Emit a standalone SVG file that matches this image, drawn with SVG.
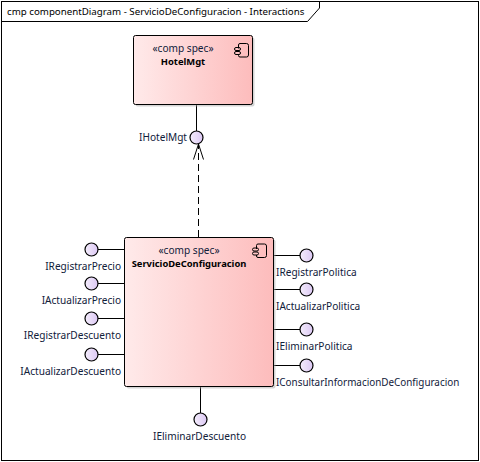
<svg xmlns="http://www.w3.org/2000/svg" width="480" height="462" viewBox="0 0 480 462">
<style>
text{font-family:"Noto Sans","Open Sans","Liberation Sans",sans-serif;font-size:10.1px;fill:#10203a}
.b{font-weight:700;font-size:9.4px;fill:#000}
.e{text-anchor:end}
.m{text-anchor:middle}
.node{fill:url(#g);stroke:#000;stroke-width:1}
.shadow{fill:#aaa;opacity:.5}
.c{fill:url(#p);stroke:#000;stroke-width:1.2}
.l{stroke:#000;stroke-width:1;fill:none}
.i{fill:none;stroke:#000;stroke-width:1}
</style>
<defs>
<linearGradient id="g" x1="0" y1="0" x2="1" y2="0"><stop offset="0" stop-color="#ffeaea"/><stop offset="1" stop-color="#fdbcbc"/></linearGradient>
<linearGradient id="p" x1="0" y1="0" x2="1" y2="0"><stop offset="0" stop-color="#f3ecfb"/><stop offset="1" stop-color="#dcc8f4"/></linearGradient>
<g id="ci"><path class="i" d="M0 -6.500H6.500a2 2 0 0 1 2 2V5a2 2 0 0 1 -2 2H0a1.500 1.500 0 0 1 -1.500 -1.500V4.500M-1.500 -1.500V-5a1.500 1.500 0 0 1 1.500 -1.500"/><rect class="i" x="-5.500" y="-2.500" width="6" height="3" rx="1.500"/><rect class="i" x="-5.500" y="1.500" width="6" height="3" rx="1.500"/></g>
</defs>
<rect width="480" height="462" fill="#fff"/>
<g id="frame">
<rect x="1.500" y="1.500" width="477" height="459" fill="none" stroke="#000"/>
<path d="M1.500 21.500H307.500L319.500 8V1.500" fill="none" stroke="#000"/>
<text x="7" y="14.500" style="font-size:9.72px;fill:#000">cmp componentDiagram - ServicioDeConfiguracion - Interactions</text>
</g>
<g id="connectors">
<path class="l" d="M196.500 104.500V131"/>
<path class="l" d="M198.500 237V144" stroke-dasharray="7 4"/>
<path class="l" d="M193.500 159.500L198.500 144L203.500 159.500"/>
<path class="l" d="M98 249.500H124M98 283.500H124M98 318.500H124M98 354.500H124"/>
<path class="l" d="M274 255.500H300M274 289.500H300M274 329.500H300M274 365.500H300"/>
<path class="l" d="M200.500 386V413"/>
</g>
<g id="HotelMgt">
<rect class="shadow" x="135.500" y="37.500" width="119" height="69" rx="2"/>
<rect class="node" x="133.500" y="35.500" width="119" height="69" rx="2"/>
<text class="m" x="183" y="51.500">«comp spec»</text>
<text class="b m" x="183" y="64.500">HotelMgt</text>
<use href="#ci" x="240" y="50"/>
</g>
<g id="ServicioDeConfiguracion">
<rect class="shadow" x="126.500" y="239.500" width="149" height="149" rx="2"/>
<rect class="node" x="124.500" y="237.500" width="149" height="149" rx="2"/>
<text class="m" x="189" y="253.500">«comp spec»</text>
<text class="b m" x="189" y="266.500">ServicioDeConfiguracion</text>
<use href="#ci" x="258" y="250.500"/>
</g>
<g id="IHotelMgt"><circle class="c" cx="196.500" cy="137.500" r="6.500"/><text class="e" x="187" y="140.500">IHotelMgt</text></g>
<g id="IRegistrarPrecio"><circle class="c" cx="91.500" cy="249.500" r="6.500"/><text class="e" x="121" y="269.500">IRegistrarPrecio</text></g>
<g id="IActualizarPrecio"><circle class="c" cx="91.500" cy="283.500" r="6.500"/><text class="e" x="121" y="303.500">IActualizarPrecio</text></g>
<g id="IRegistrarDescuento"><circle class="c" cx="91.500" cy="318.500" r="6.500"/><text class="e" x="121" y="338.500">IRegistrarDescuento</text></g>
<g id="IActualizarDescuento"><circle class="c" cx="91.500" cy="354.500" r="6.500"/><text class="e" x="121" y="374.500">IActualizarDescuento</text></g>
<g id="IRegistrarPolitica"><circle class="c" cx="306.500" cy="255.500" r="6.500"/><text x="276" y="275.500">IRegistrarPolitica</text></g>
<g id="IActualizarPolitica"><circle class="c" cx="306.500" cy="289.500" r="6.500"/><text x="276" y="309.500">IActualizarPolitica</text></g>
<g id="IEliminarPolitica"><circle class="c" cx="306.500" cy="329.500" r="6.500"/><text x="276" y="349.500">IEliminarPolitica</text></g>
<g id="IConsultarInformacionDeConfiguracion"><circle class="c" cx="306.500" cy="365.500" r="6.500"/><text x="276" y="385.500" style="font-size:9.9px">IConsultarInformacionDeConfiguracion</text></g>
<g id="IEliminarDescuento"><circle class="c" cx="200.500" cy="419.500" r="6.500"/><text class="m" x="199.500" y="440">IEliminarDescuento</text></g>
</svg>
